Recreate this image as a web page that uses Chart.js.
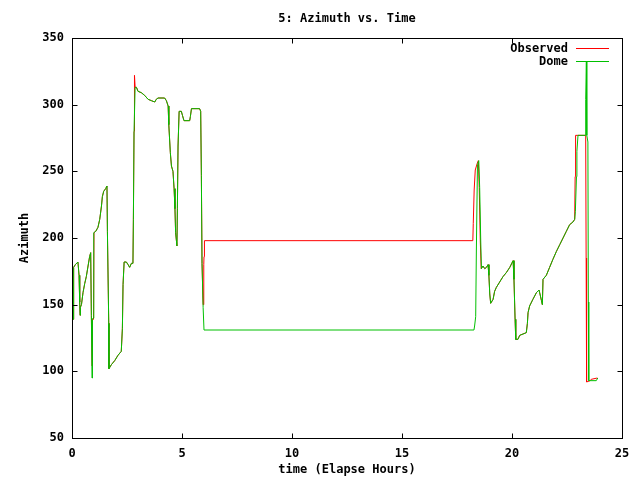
<!DOCTYPE html>
<html>
<head>
<meta charset="utf-8">
<script src="https://cdn.jsdelivr.net/npm/chart.js@4"></script>
<style>
  html, body { margin: 0; padding: 0; background: #fff; }
  canvas { display: block; }
</style>
</head>
<body>
<canvas id="azChart" width="640" height="480"></canvas>
<script>
  // ---- data ----
  const chartTitle = '5: Azimuth vs. Time';
  const xTitle = 'time (Elapse Hours)';
  const yTitle = 'Azimuth';
  const xTicks = [0, 5, 10, 15, 20, 25];
  const yTicks = [50, 100, 150, 200, 250, 300, 350];

  const domeTime = [0.04,0.05,0.07,0.08,0.15,0.27,0.32,0.35,0.37,0.38,0.43,0.50,0.58,0.65,0.73,0.80,0.85,0.88,0.91,0.93,0.96,0.99,
    1.08,1.18,1.26,1.34,1.38,1.44,1.53,1.59,1.61,1.67,1.68,1.79,1.94,2.09,2.24,2.29,2.32,2.37,2.47,2.55,2.62,2.70,2.77,2.79,2.82,2.87,2.93,
    3.00,3.15,3.30,3.46,3.61,3.76,3.83,3.91,4.21,4.29,4.37,4.40,4.47,4.52,4.59,4.64,4.68,4.71,4.77,4.79,4.82,4.87,4.97,
    5.02,5.09,5.35,5.38,5.43,5.80,5.85,5.88,5.91,5.96,6.00,
    18.27,18.30,18.35,18.38,18.43,18.49,18.53,18.58,18.61,18.68,18.76,18.84,18.91,18.95,18.99,19.03,19.14,19.21,19.29,19.44,19.59,19.74,19.90,
    20.05,20.09,20.14,20.17,20.27,20.35,20.50,20.65,20.70,20.73,20.80,20.95,21.11,21.23,21.26,21.34,21.38,21.41,21.56,21.71,21.86,
    22.02,22.17,22.32,22.47,22.62,22.77,22.85,22.88,22.93,22.95,23.00,23.34,23.35,23.38,23.40,23.45,23.47,23.49,23.83,23.90];
  const domeAz = [163,139,160,178,180,182,172,152,142,148,150,159,166,171,179,186,189,142,95,139,140,204,
    205,208,214,224,231,235,237,239,205,136,102,105,108,112,115,132,165,182,182,180,178,181,181,214,280,313,313,
    310,309,307,304,303,302,304,305,305,303,299,285,264,254,250,237,222,204,194,222,269,295,295,
    292,288,288,291,297,297,295,247,181,148,131,
    131,134,141,191,255,258,238,197,177,179,177,178,180,172,158,151,154,160,163,167,171,174,178,
    183,169,139,124,124,127,128,129,136,144,149,154,159,161,161,153,150,169,172,178,184,
    190,195,200,205,210,212,214,220,246,265,277,277,304,332,277,272,152,93,93,95];

  const obsTime = [0.04,0.05,0.07,0.08,0.15,0.27,0.32,0.35,0.37,0.38,0.43,0.50,0.58,0.65,0.73,0.80,0.85,0.88,0.91,0.93,0.98,1.00,
    1.08,1.18,1.26,1.34,1.38,1.44,1.53,1.59,1.61,1.67,1.68,1.79,1.94,2.09,2.24,2.29,2.32,2.37,2.47,2.55,2.62,2.70,2.77,2.79,2.82,2.83,2.85,2.87,2.93,
    3.00,3.15,3.30,3.46,3.61,3.76,3.83,3.91,4.21,4.29,4.37,4.40,4.47,4.52,4.59,4.64,4.68,4.71,4.77,4.79,4.82,4.87,4.97,
    5.02,5.09,5.35,5.38,5.43,5.80,5.85,5.88,5.91,5.96,5.99,6.00,6.02,
    18.22,18.24,18.28,18.33,18.42,18.47,18.51,18.56,18.60,18.68,18.76,18.84,18.91,18.95,18.99,19.03,19.14,19.21,19.29,19.44,19.59,19.74,19.90,
    20.05,20.09,20.14,20.17,20.27,20.35,20.50,20.65,20.70,20.73,20.80,20.95,21.11,21.23,21.26,21.34,21.38,21.41,21.56,21.71,21.86,
    22.02,22.17,22.32,22.47,22.62,22.77,22.85,22.87,22.89,23.35,23.37,23.39,23.55,23.60,23.88];
  const obsAz = [163,139,160,178,180,182,172,152,142,148,150,159,166,171,179,186,189,142,104,139,139,204,
    205,208,214,224,231,235,237,239,205,136,102,105,108,112,115,132,165,182,182,180,178,181,181,214,280,300,322,313,313,
    310,309,307,304,303,302,304,305,305,303,299,285,264,254,250,237,222,204,194,222,269,295,295,
    292,288,288,291,297,297,295,247,181,150,180,186,198,
    198,211,236,251,256,258,238,197,177,179,177,178,180,172,158,151,154,160,163,167,171,174,178,
    183,169,139,124,124,127,128,129,136,144,149,154,159,161,161,153,150,169,172,178,184,
    190,195,200,205,210,212,214,246,277,277,185,92,93,94,95];

  const toPoints = (ts, vs) => ts.map((t, i) => ({ x: t, y: vs[i] }));

  const FONT = 'bold 12px "DejaVu Sans Mono", "Liberation Mono", monospace';
  const RED = '#ff0000';
  const GREEN = '#00c000';

  // frame, inward ticks, titles and gnuplot-style key
  const gnuplotFrame = {
    id: 'gnuplotFrame',
    afterDraw(chart) {
      const c = chart.ctx;
      const a = chart.chartArea;
      const sx = chart.scales.x, sy = chart.scales.y;
      const L = Math.round(a.left) + 0.5, R = Math.round(a.right) + 0.5;
      const T = Math.round(a.top) + 0.5, B = Math.round(a.bottom) + 0.5;
      c.save();
      c.strokeStyle = '#000';
      c.lineWidth = 1;
      c.strokeRect(L, T, R - L, B - T);
      c.beginPath();
      xTicks.slice(1, -1).forEach(v => {
        const px = Math.round(sx.getPixelForValue(v)) + 0.5;
        c.moveTo(px, B); c.lineTo(px, B - 5);
        c.moveTo(px, T); c.lineTo(px, T + 5);
      });
      yTicks.slice(1, -1).forEach(v => {
        const py = Math.round(sy.getPixelForValue(v)) + 0.5;
        c.moveTo(L, py); c.lineTo(L + 5, py);
        c.moveTo(R, py); c.lineTo(R - 5, py);
      });
      c.stroke();

      c.fillStyle = '#000';
      c.font = FONT;
      c.textAlign = 'center';
      c.textBaseline = 'middle';
      const midX = (a.left + a.right) / 2;
      c.fillText(chartTitle, midX, 19);
      c.fillText(xTitle, midX, 470);
      c.save();
      c.translate(25, 238);
      c.rotate(-Math.PI / 2);
      c.fillText(yTitle, 0, 0);
      c.restore();

      // key, top right
      c.textAlign = 'right';
      const keys = [['Observed', RED, 48.5], ['Dome', GREEN, 61.5]];
      keys.forEach(([label, col, y]) => {
        c.fillStyle = '#000';
        c.fillText(label, 568, y + 0.5);
        c.strokeStyle = col;
        c.beginPath();
        c.moveTo(576, y); c.lineTo(609, y);
        c.stroke();
      });
      c.restore();
    }
  };

  new Chart(document.getElementById('azChart'), {
    type: 'line',
    data: {
      datasets: [
        {
          label: 'Observed',
          data: toPoints(obsTime, obsAz),
          borderColor: RED,
          backgroundColor: RED,
          borderWidth: 1,
          pointRadius: 0,
          tension: 0,
          order: 1
        },
        {
          label: 'Dome',
          data: toPoints(domeTime, domeAz),
          borderColor: GREEN,
          backgroundColor: GREEN,
          borderWidth: 1,
          pointRadius: 0,
          tension: 0,
          order: 0
        }
      ]
    },
    options: {
      responsive: false,
      devicePixelRatio: 1,
      animation: false,
      layout: { padding: { left: 0, right: 18, top: 38, bottom: 0 } },
      plugins: {
        legend: { display: false },
        title: { display: false },
        tooltip: { enabled: false }
      },
      scales: {
        x: {
          type: 'linear', min: 0, max: 25,
          afterFit: s => { s.height = 42; },
          afterBuildTicks: s => { s.ticks = xTicks.map(v => ({ value: v })); },
          ticks: { color: '#000', font: { family: '"DejaVu Sans Mono"', size: 12, weight: 'bold' }, padding: 9, maxRotation: 0, autoSkip: false },
          grid: { display: false, drawTicks: false },
          border: { display: false }
        },
        y: {
          type: 'linear', min: 50, max: 350,
          afterFit: s => { s.width = 72; },
          afterBuildTicks: s => { s.ticks = yTicks.map(v => ({ value: v })); },
          ticks: { color: '#000', font: { family: '"DejaVu Sans Mono"', size: 12, weight: 'bold' }, padding: 8, autoSkip: false },
          grid: { display: false, drawTicks: false },
          border: { display: false }
        }
      }
    },
    plugins: [gnuplotFrame]
  });
</script>
</body>
</html>
